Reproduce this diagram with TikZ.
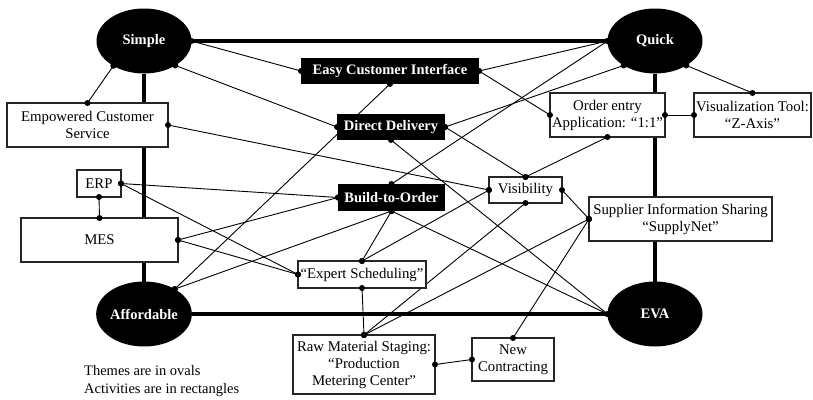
\documentclass[tikz,border=0pt]{standalone}
\usepackage{fontspec}
\setmainfont{Liberation Serif}
\usetikzlibrary{shapes.geometric}
\pgfdeclarelayer{background}
\pgfdeclarelayer{foreground}
\pgfsetlayers{background,main,foreground}
\newcommand\lnk[2]{%
  \begin{pgfonlayer}{background}\draw[link] (#1) -- (#2);\end{pgfonlayer}%
  \begin{pgfonlayer}{foreground}\fill[black] (#1) circle[radius=3pt] (#2) circle[radius=3pt];\end{pgfonlayer}}
\tikzset{
  theme/.style={ellipse, fill=black, text=white, inner sep=0pt, outer sep=0pt,
    minimum width=95pt, minimum height=65pt, font=\fontsize{14.5}{17}\selectfont\bfseries},
  actblack/.style={rectangle, fill=black, text=white, inner sep=0pt, outer sep=0pt,
    font=\fontsize{14.5}{17}\selectfont\bfseries},
  act/.style={rectangle, draw=black!85, line width=1.1pt, fill=white, text=black, inner sep=0pt, outer sep=0pt,
    align=center, font=\fontsize{14.8}{17}\selectfont},
  link/.style={draw=black, line width=0.9pt},
  thick link/.style={draw=black, line width=3.3pt}
}
\begin{document}
\begin{tikzpicture}[x=1pt,y=-1pt]
\useasboundingbox (0,0) rectangle (813,399);
\begin{pgfonlayer}{background}
\fill[white] (0,0) rectangle (813,399);
\end{pgfonlayer}
% themes
\node[theme] (simple) at (144,41) {Simple};
\node[theme] (quick) at (655,41) {Quick};
\node[theme] (affordable) at (144,314) {Affordable};
\node[theme] (eva) at (655,314) {EVA};
% black activities
\node[actblack, minimum width=178pt, minimum height=26pt] (eci) at (390,71) {Easy Customer Interface};
\node[actblack, minimum width=108pt, minimum height=26pt] (dd) at (391,127) {Direct Delivery};
\node[actblack, minimum width=107pt, minimum height=27pt] (bto) at (391.5,197.5) {Build-to-Order};
% white activities
\node[act, minimum width=73pt, minimum height=26pt] (vis) at (525.5,190) {Visibility};
\node[act, minimum width=128pt, minimum height=27pt] (es) at (362,274.5) {“Expert Scheduling”};
\node[act, minimum width=161pt, minimum height=44pt] (ecs) at (87.5,125) {Empowered Customer\\Service};
\node[act, minimum width=44pt, minimum height=27pt] (erp) at (99,183.5) {ERP};
\node[act, minimum width=157pt, minimum height=44pt] (mes) at (99.5,240) {MES};
\node[act, minimum width=115pt, minimum height=44pt] (oe) at (607.5,115) {Order entry\\Application: “1:1”};
\node[act, minimum width=117pt, minimum height=44pt] (viz) at (752.5,115) {Visualization Tool:\\“Z-Axis”};
\node[act, minimum width=183pt, minimum height=44pt] (sup) at (680.5,219) {Supplier Information Sharing\\“SupplyNet”};
\node[act, minimum width=142pt, minimum height=59pt] (rms) at (364,364.5) {Raw Material Staging:\\“Production\\Metering Center”};
\node[act, minimum width=82pt, minimum height=43pt] (nc) at (513,359.5) {New\\Contracting};
% legend
\node[anchor=west, align=left, inner sep=0pt, font=\fontsize{14.5}{17.5}\selectfont] (legend) at (84,381) {Themes are in ovals\\Activities are in rectangles};
% thick theme connectors
\begin{pgfonlayer}{background}
\draw[thick link] (simple.east) -- (quick.west);
\draw[thick link] (simple.south) -- (affordable.north);
\draw[thick link] (quick.south) -- (eva.north);
\draw[thick link] (affordable.east) -- (eva.west);
\end{pgfonlayer}
% thin connectors
\lnk{simple.east}{eci.west}
\lnk{simple.-38}{dd.west}
\lnk{simple.-141}{ecs.north}
\lnk{quick.west}{eci.east}
\lnk{quick.west}{bto.north}
\lnk{quick.-142}{dd.east}
\lnk{quick.-38}{viz.north}
\lnk{eci.east}{oe.west}
\lnk{eci.south}{affordable.39}
\lnk{dd.east}{vis.north}
\lnk{dd.south}{eva.west}
\lnk{bto.south}{affordable.39}
\lnk{bto.south}{es.north}
\lnk{bto.south}{eva.west}
\lnk{erp.east}{bto.west}
\lnk{erp.east}{es.west}
\lnk{erp.south}{mes.north}
\lnk{mes.east}{bto.west}
\lnk{mes.east}{es.west}
\lnk{ecs.east}{vis.west}
\lnk{vis.north}{oe.south}
\lnk{vis.east}{sup.west}
\lnk{vis.west}{es.north}
\lnk{vis.south}{rms.north}
\lnk{es.south}{rms.north}
\lnk{sup.west}{rms.north}
\lnk{sup.west}{nc.north}
\lnk{rms.east}{nc.west}
\lnk{oe.east}{viz.west}
\end{tikzpicture}
\end{document}
